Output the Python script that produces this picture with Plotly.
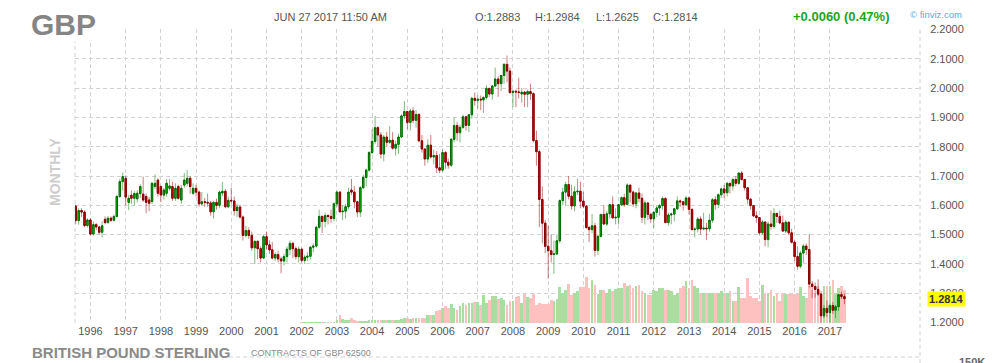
import pandas as pd
import plotly.graph_objects as go

# ---------------- DATA (monthly GBP futures, Aug 1995 .. Jun 2017) ----------------
opens = [
    1.597, 1.548, 1.582, 1.577, 1.531,                                                  # 1995 Aug-Dec
    1.550, 1.502, 1.534, 1.526, 1.508, 1.552, 1.541, 1.556, 1.549, 1.562, 1.630, 1.681,  # 1996
    1.692, 1.610, 1.634, 1.624, 1.622, 1.640, 1.638, 1.630, 1.618, 1.613, 1.664, 1.686,  # 1997
    1.664, 1.635, 1.641, 1.658, 1.664, 1.624, 1.664, 1.618, 1.669, 1.675, 1.692, 1.641,  # 1998
    1.658, 1.645, 1.605, 1.612, 1.610, 1.608, 1.578, 1.610, 1.600, 1.642, 1.648, 1.595,  # 1999
    1.617, 1.615, 1.582, 1.594, 1.560, 1.497, 1.514, 1.497, 1.455, 1.477, 1.452, 1.420,  # 2000
    1.493, 1.465, 1.448, 1.420, 1.432, 1.417, 1.410, 1.425, 1.450, 1.470, 1.452, 1.425,  # 2001
    1.450, 1.412, 1.423, 1.426, 1.457, 1.461, 1.525, 1.562, 1.545, 1.565, 1.562, 1.555,  # 2002
    1.605, 1.645, 1.578, 1.580, 1.595, 1.652, 1.645, 1.612, 1.577, 1.660, 1.695, 1.720,  # 2003
    1.780, 1.818, 1.865, 1.840, 1.775, 1.833, 1.815, 1.822, 1.795, 1.808, 1.833, 1.905,  # 2004
    1.920, 1.883, 1.922, 1.890, 1.910, 1.820, 1.792, 1.758, 1.805, 1.765, 1.770, 1.728,  # 2005
    1.720, 1.780, 1.747, 1.737, 1.825, 1.872, 1.848, 1.866, 1.902, 1.873, 1.909, 1.965,  # 2006
    1.958, 1.962, 1.960, 1.968, 1.999, 1.980, 2.007, 2.031, 2.015, 2.043, 2.081, 2.058,  # 2007
    1.985, 1.989, 1.987, 1.980, 1.986, 1.979, 1.988, 1.981, 1.821, 1.783, 1.620, 1.539,  # 2008
    1.460, 1.445, 1.432, 1.434, 1.479, 1.616, 1.645, 1.671, 1.631, 1.598, 1.646, 1.648,  # 2009
    1.614, 1.597, 1.524, 1.517, 1.530, 1.446, 1.494, 1.569, 1.536, 1.571, 1.602, 1.557,  # 2010
    1.559, 1.602, 1.626, 1.603, 1.669, 1.645, 1.605, 1.642, 1.624, 1.559, 1.608, 1.569,  # 2011
    1.554, 1.576, 1.591, 1.599, 1.623, 1.541, 1.567, 1.570, 1.588, 1.615, 1.612, 1.602,  # 2012
    1.625, 1.586, 1.517, 1.519, 1.553, 1.519, 1.522, 1.520, 1.549, 1.619, 1.603, 1.636,  # 2013
    1.656, 1.643, 1.675, 1.666, 1.688, 1.675, 1.710, 1.688, 1.660, 1.621, 1.599, 1.564,  # 2014
    1.558, 1.506, 1.543, 1.483, 1.536, 1.528, 1.572, 1.562, 1.540, 1.512, 1.542, 1.506,  # 2015
    1.474, 1.425, 1.392, 1.437, 1.461, 1.449, 1.331, 1.323, 1.313, 1.297, 1.223, 1.248,  # 2016
    1.234, 1.258, 1.242, 1.254, 1.295, 1.2883,                                           # 2017
]
highs = [
    1.602, 1.590, 1.590, 1.583, 1.556,
    1.556, 1.545, 1.540, 1.529, 1.545, 1.562, 1.563, 1.562, 1.568, 1.636, 1.690, 1.712,
    1.702, 1.636, 1.650, 1.648, 1.652, 1.672, 1.698, 1.640, 1.628, 1.680, 1.705, 1.692,
    1.668, 1.660, 1.690, 1.690, 1.680, 1.675, 1.670, 1.670, 1.710, 1.720, 1.700, 1.675,
    1.670, 1.650, 1.645, 1.625, 1.640, 1.615, 1.615, 1.623, 1.650, 1.680, 1.655, 1.630,
    1.660, 1.630, 1.605, 1.602, 1.565, 1.530, 1.525, 1.510, 1.480, 1.480, 1.460, 1.500,
    1.510, 1.480, 1.475, 1.440, 1.445, 1.425, 1.435, 1.460, 1.480, 1.475, 1.460, 1.460,
    1.455, 1.430, 1.440, 1.460, 1.470, 1.530, 1.585, 1.565, 1.575, 1.570, 1.585, 1.610,
    1.650, 1.648, 1.600, 1.605, 1.660, 1.690, 1.665, 1.615, 1.665, 1.705, 1.725, 1.785,
    1.860, 1.905, 1.870, 1.850, 1.840, 1.850, 1.870, 1.850, 1.820, 1.845, 1.910, 1.955,
    1.920, 1.930, 1.935, 1.925, 1.915, 1.840, 1.795, 1.825, 1.840, 1.790, 1.785, 1.775,
    1.790, 1.785, 1.760, 1.830, 1.900, 1.885, 1.875, 1.910, 1.905, 1.910, 1.970, 1.985,
    1.975, 1.975, 1.972, 2.010, 2.001, 2.010, 2.070, 2.040, 2.045, 2.085, 2.111, 2.070,
    1.995, 1.995, 2.035, 2.000, 1.990, 1.995, 2.015, 1.985, 1.855, 1.790, 1.665, 1.550,
    1.530, 1.500, 1.480, 1.500, 1.620, 1.660, 1.680, 1.700, 1.670, 1.665, 1.690, 1.680,
    1.645, 1.600, 1.530, 1.570, 1.540, 1.500, 1.570, 1.600, 1.580, 1.600, 1.630, 1.590,
    1.605, 1.630, 1.640, 1.675, 1.670, 1.650, 1.645, 1.660, 1.640, 1.617, 1.610, 1.575,
    1.580, 1.598, 1.605, 1.630, 1.628, 1.575, 1.575, 1.590, 1.630, 1.620, 1.615, 1.632,
    1.630, 1.590, 1.525, 1.560, 1.562, 1.575, 1.540, 1.570, 1.625, 1.630, 1.640, 1.660,
    1.670, 1.680, 1.675, 1.695, 1.700, 1.712, 1.717, 1.690, 1.660, 1.625, 1.600, 1.580,
    1.560, 1.550, 1.545, 1.545, 1.582, 1.590, 1.575, 1.582, 1.565, 1.550, 1.545, 1.520,
    1.480, 1.460, 1.445, 1.467, 1.470, 1.502, 1.342, 1.337, 1.347, 1.300, 1.260, 1.275,
    1.265, 1.270, 1.260, 1.298, 1.305, 1.2984,
]
lows = [
    1.537, 1.534, 1.560, 1.525, 1.524,
    1.497, 1.497, 1.515, 1.500, 1.490, 1.535, 1.538, 1.543, 1.545, 1.558, 1.625, 1.650,
    1.600, 1.584, 1.605, 1.600, 1.610, 1.625, 1.612, 1.573, 1.580, 1.605, 1.655, 1.630,
    1.610, 1.620, 1.630, 1.650, 1.615, 1.615, 1.620, 1.605, 1.660, 1.665, 1.640, 1.635,
    1.630, 1.595, 1.600, 1.595, 1.595, 1.565, 1.555, 1.585, 1.590, 1.630, 1.590, 1.590,
    1.605, 1.565, 1.560, 1.555, 1.480, 1.490, 1.485, 1.445, 1.400, 1.415, 1.405, 1.418,
    1.450, 1.435, 1.415, 1.410, 1.405, 1.368, 1.395, 1.405, 1.430, 1.420, 1.415, 1.405,
    1.405, 1.400, 1.410, 1.415, 1.440, 1.455, 1.520, 1.505, 1.525, 1.535, 1.540, 1.545,
    1.595, 1.575, 1.550, 1.555, 1.585, 1.635, 1.590, 1.560, 1.560, 1.655, 1.665, 1.715,
    1.775, 1.810, 1.800, 1.760, 1.750, 1.800, 1.810, 1.790, 1.770, 1.775, 1.830, 1.895,
    1.860, 1.855, 1.880, 1.865, 1.815, 1.780, 1.735, 1.745, 1.760, 1.740, 1.710, 1.710,
    1.715, 1.725, 1.725, 1.730, 1.815, 1.820, 1.815, 1.860, 1.855, 1.850, 1.895, 1.940,
    1.930, 1.925, 1.915, 1.960, 1.970, 1.960, 2.005, 1.970, 1.990, 2.015, 2.020, 1.980,
    1.935, 1.935, 1.965, 1.950, 1.935, 1.935, 1.960, 1.815, 1.735, 1.525, 1.470, 1.437,
    1.350, 1.405, 1.366, 1.430, 1.470, 1.600, 1.600, 1.620, 1.585, 1.580, 1.635, 1.590,
    1.590, 1.520, 1.475, 1.505, 1.425, 1.430, 1.490, 1.535, 1.530, 1.555, 1.555, 1.535,
    1.535, 1.598, 1.595, 1.600, 1.610, 1.595, 1.590, 1.610, 1.540, 1.535, 1.550, 1.540,
    1.523, 1.560, 1.565, 1.585, 1.540, 1.530, 1.535, 1.545, 1.585, 1.595, 1.582, 1.600,
    1.568, 1.515, 1.490, 1.507, 1.500, 1.515, 1.481, 1.510, 1.540, 1.585, 1.590, 1.625,
    1.625, 1.630, 1.640, 1.650, 1.665, 1.670, 1.685, 1.650, 1.605, 1.585, 1.560, 1.540,
    1.500, 1.500, 1.460, 1.457, 1.517, 1.520, 1.540, 1.535, 1.510, 1.505, 1.498, 1.470,
    1.410, 1.380, 1.385, 1.404, 1.430, 1.320, 1.283, 1.285, 1.290, 1.200, 1.215, 1.220,
    1.200, 1.230, 1.215, 1.240, 1.280, 1.2625,
]
closes = [
    1.548, 1.582, 1.577, 1.531, 1.550,
    1.502, 1.534, 1.526, 1.508, 1.530, 1.541, 1.556, 1.549, 1.562, 1.630, 1.681, 1.698,
    1.628, 1.624, 1.624, 1.640, 1.641, 1.664, 1.618, 1.610, 1.607, 1.675, 1.675, 1.641,
    1.635, 1.652, 1.675, 1.666, 1.624, 1.658, 1.624, 1.658, 1.686, 1.692, 1.664, 1.658,
    1.645, 1.605, 1.612, 1.610, 1.608, 1.578, 1.610, 1.600, 1.645, 1.648, 1.595, 1.617,
    1.615, 1.582, 1.594, 1.560, 1.497, 1.514, 1.497, 1.455, 1.477, 1.452, 1.420, 1.493,
    1.465, 1.448, 1.420, 1.432, 1.417, 1.410, 1.425, 1.450, 1.470, 1.452, 1.425, 1.450,
    1.412, 1.423, 1.426, 1.457, 1.461, 1.525, 1.562, 1.545, 1.565, 1.562, 1.555, 1.605,
    1.645, 1.578, 1.580, 1.595, 1.645, 1.645, 1.612, 1.577, 1.660, 1.695, 1.720, 1.780,
    1.818, 1.865, 1.840, 1.775, 1.833, 1.815, 1.822, 1.795, 1.808, 1.833, 1.905, 1.920,
    1.883, 1.922, 1.890, 1.910, 1.820, 1.792, 1.758, 1.805, 1.765, 1.770, 1.728, 1.720,
    1.780, 1.747, 1.737, 1.825, 1.872, 1.848, 1.866, 1.902, 1.873, 1.909, 1.965, 1.958,
    1.962, 1.960, 1.968, 1.999, 1.980, 2.007, 2.031, 2.015, 2.043, 2.081, 2.058, 1.985,
    1.989, 1.987, 1.985, 1.986, 1.979, 1.988, 1.981, 1.821, 1.783, 1.620, 1.539, 1.460,
    1.445, 1.432, 1.434, 1.479, 1.616, 1.645, 1.671, 1.631, 1.598, 1.646, 1.648, 1.614,
    1.597, 1.524, 1.517, 1.530, 1.446, 1.494, 1.569, 1.536, 1.571, 1.602, 1.557, 1.559,
    1.602, 1.626, 1.603, 1.669, 1.645, 1.605, 1.642, 1.624, 1.559, 1.608, 1.569, 1.554,
    1.576, 1.591, 1.599, 1.623, 1.541, 1.567, 1.570, 1.588, 1.615, 1.612, 1.602, 1.625,
    1.586, 1.517, 1.519, 1.553, 1.519, 1.522, 1.520, 1.549, 1.619, 1.603, 1.636, 1.656,
    1.643, 1.675, 1.666, 1.688, 1.675, 1.710, 1.688, 1.660, 1.621, 1.599, 1.564, 1.558,
    1.506, 1.543, 1.483, 1.536, 1.528, 1.572, 1.562, 1.540, 1.512, 1.542, 1.506, 1.474,
    1.425, 1.392, 1.437, 1.461, 1.449, 1.331, 1.323, 1.313, 1.297, 1.223, 1.248, 1.234,
    1.258, 1.242, 1.254, 1.295, 1.289, 1.2814,
]
# monthly volume (thousand contracts), Jan 2002 .. Jun 2017
volume_k = [
    18, 18, 18, 30, 30, 30, 30, 30, 42, 42, 60, 60,                              # 2002
    160, 460, 240, 200, 200, 300, 160, 100, 80, 80, 100, 160,                    # 2003
    160, 160, 180, 160, 180, 180, 200, 180, 200, 200, 220, 300,                  # 2004
    300, 240, 270, 300, 300, 300, 300, 480, 500, 500, 700, 800,                  # 2005
    900, 1000, 900, 1160, 900, 800, 1000, 1200, 1100, 1200, 1200, 1240,          # 2006
    1240, 1100, 1700, 1200, 1400, 1640, 1600, 1440, 1500, 1400, 1100, 1300,      # 2007
    1300, 1560, 1600, 1200, 1740, 1560, 1500, 1720, 1100, 1200, 1140, 1160,      # 2008
    1160, 1400, 1300, 1460, 2160, 1800, 2000, 2360, 1700, 1800, 1900, 2160,      # 2009
    2160, 2740, 2100, 2600, 2300, 1760, 2000, 1960, 1800, 2040, 1900, 2040,      # 2010
    2100, 2100, 2400, 2200, 2300, 2100, 2200, 2300, 1900, 1800, 1700, 1700,      # 2011
    2000, 1900, 2100, 2100, 2000, 2000, 1900, 1700, 1800, 2100, 2200, 2500,      # 2012
    2100, 2560, 2200, 2100, 1800, 1800, 1800, 1800, 1800, 1800, 1800, 1900,      # 2013
    1800, 1800, 1900, 1300, 1300, 2160, 1500, 1500, 2700, 1600, 1500, 1500,      # 2014
    1300, 2300, 1800, 1800, 1960, 1600, 1800, 1300, 1800, 1760, 1760, 1760,      # 2015
    1760, 1760, 2160, 1600, 1500, 2200, 2000, 1800, 2200, 1900, 2200, 2200,      # 2016
    2200, 2600, 1800, 2100, 2200, 1980,                                          # 2017
]
year_labels = [str(y) for y in range(1996, 2018)]
year_ticks = [f"{y}-01-01" for y in range(1996, 2018)]

header_date = "JUN 27 2017 11:50 AM"
header_ohlc = ["O:1.2883", "H:1.2984", "L:1.2625", "C:1.2814"]
header_change = "+0.0060 (0.47%)"
last_price = 1.2814

# ---------------- FIGURE ----------------
dates = pd.date_range("1995-08-01", periods=len(closes), freq="MS")
vol_dates = pd.date_range("2002-01-01", periods=len(volume_k), freq="MS")
is_up = dict(zip(dates, [c >= o for o, c in zip(opens, closes)]))
vol_colors = ["rgb(170,222,160)" if is_up[d] else "rgb(255,192,192)" for d in vol_dates]
body_top = [max(o, c) for o, c in zip(opens, closes)]
body_bot = [min(o, c) for o, c in zip(opens, closes)]

FONT = "Liberation Sans, Arial, Helvetica, sans-serif"
GRID = "#d2d2d2"
DASH = "4px,3px"

fig = go.Figure()
fig.add_trace(go.Bar(
    x=vol_dates, y=volume_k, yaxis="y", width=28 * 86400000,
    marker=dict(color=vol_colors, line=dict(width=0)), hoverinfo="skip", showlegend=False))
# full-range candles (faint wicks)
fig.add_trace(go.Candlestick(
    x=dates, open=opens, high=highs, low=lows, close=closes, yaxis="y2",
    increasing=dict(line=dict(color="rgba(0,120,0,0.5)", width=1), fillcolor="rgba(0,120,0,0.5)"),
    decreasing=dict(line=dict(color="rgba(150,0,0,0.5)", width=1), fillcolor="rgba(150,0,0,0.5)"),
    hoverinfo="skip", showlegend=False))
# solid bodies
fig.add_trace(go.Candlestick(
    x=dates, open=opens, high=body_top, low=body_bot, close=closes, yaxis="y2",
    increasing=dict(line=dict(color="#006a00", width=1), fillcolor="#00c800"),
    decreasing=dict(line=dict(color="#8a0000", width=1), fillcolor="#d60000"),
    hoverinfo="skip", showlegend=False))

L, T, W, H = 75, 29, 845, 294   # plot box in pixels


def px(X):
    return (X - L) / W


def py(Y):
    return (T + H - Y) / H


ann = []
ann.append(dict(text="<b>GBP</b>", x=px(30), y=py(25), xanchor="left", yanchor="middle",
                font=dict(family=FONT, size=30, color="#858585"), bgcolor="white", borderpad=0))
ann.append(dict(text=header_date, x=px(272), y=py(17), xanchor="left", yanchor="middle",
                font=dict(family=FONT, size=11, color="#555555")))
for t, X in zip(header_ohlc, [473, 533, 594, 651]):
    ann.append(dict(text=t, x=px(X), y=py(17), xanchor="left", yanchor="middle",
                    font=dict(family=FONT, size=11, color="#555555")))
ann.append(dict(text=f"<b>{header_change}</b>", x=px(791), y=py(16), xanchor="left", yanchor="middle",
                font=dict(family=FONT, size=13, color="#1ea51e")))
ann.append(dict(text="© finviz.com", x=px(908), y=py(15), xanchor="left", yanchor="middle",
                font=dict(family=FONT, size=9.5, color="#5ba9dc")))
ann.append(dict(text="<b>MONTHLY</b>", x=px(55), y=py(172), xanchor="center", yanchor="middle",
                textangle=-90, font=dict(family=FONT, size=14, color="#cdcdcd")))
ann.append(dict(text="<b>BRITISH POUND STERLING</b>", x=px(30), y=py(352), xanchor="left",
                yanchor="middle", font=dict(family=FONT, size=15, color="#8a8a8a")))
ann.append(dict(text="CONTRACTS OF GBP 62500", x=px(249), y=py(353), xanchor="left",
                yanchor="middle", font=dict(family=FONT, size=9, color="#8a8a8a")))
ann.append(dict(text="<b>150K</b>", x=px(957), y=py(362), xanchor="left", yanchor="middle",
                font=dict(family=FONT, size=11, color="#666666")))
for a in ann:
    a.update(xref="paper", yref="paper", showarrow=False)
ann.append(dict(text=f"<b>{last_price:.4f}</b>", xref="paper", yref="y2", x=1, y=last_price,
                xanchor="left", yanchor="middle", xshift=7, showarrow=False,
                bgcolor="#ffff00", borderpad=1, font=dict(family=FONT, size=11, color="#333333")))

shapes = [
    dict(type="line", xref="paper", yref="paper", x0=0, x1=0, y0=0, y1=1,
         line=dict(color=GRID, width=1, dash=DASH), layer="below"),
    dict(type="line", xref="paper", yref="paper", x0=1, x1=1, y0=-0.16, y1=1,
         line=dict(color=GRID, width=1, dash=DASH), layer="below"),
    dict(type="line", xref="paper", yref="paper", x0=0, x1=1, y0=py(357), y1=py(357),
         line=dict(color=GRID, width=1, dash=DASH), layer="below"),
]

fig.update_layout(
    width=1000, height=363,
    margin=dict(l=L, r=1000 - L - W, t=T, b=363 - T - H),
    paper_bgcolor="white", plot_bgcolor="white",
    showlegend=False, hovermode=False,
    boxgap=0.25, bargap=0,
    annotations=ann, shapes=shapes,
    xaxis=dict(type="date", range=["1995-07-25", "2019-07-25"],
               rangeslider=dict(visible=False),
               tickmode="array", tickvals=year_ticks, ticktext=year_labels,
               showgrid=True, gridcolor=GRID, griddash=DASH, gridwidth=1,
               zeroline=False, showline=False, ticks="",
               tickfont=dict(family=FONT, size=11, color="#555555")),
    yaxis=dict(range=[0, 17600], visible=False, showgrid=False, zeroline=False, fixedrange=True),
    yaxis2=dict(overlaying="y", side="right", range=[1.1983, 2.2017],
                tickmode="linear", tick0=1.2, dtick=0.1, tickformat=".4f",
                showgrid=True, gridcolor=GRID, griddash=DASH, gridwidth=1,
                zeroline=False, showline=False,
                ticks="outside", ticklen=7, tickcolor="rgba(0,0,0,0)",
                tickfont=dict(family=FONT, size=11, color="#555555")),
)

fig.write_html(
    "out.html",
    config={"displayModeBar": False},
    post_script="document.body.style.margin='0';document.body.style.overflow='hidden';",
)
